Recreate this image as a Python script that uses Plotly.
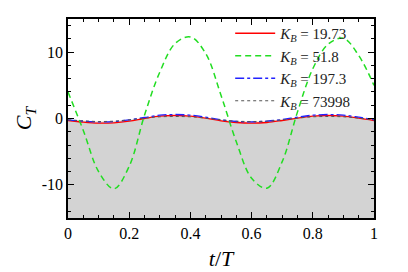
import plotly.graph_objects as go

t = [0.0, 0.05, 0.10, 0.15, 0.20, 0.25, 0.30, 0.35, 0.40, 0.45, 0.50,
     0.55, 0.60, 0.65, 0.70, 0.75, 0.80, 0.85, 0.90, 0.95, 1.0]

ct_1973 = [-0.3, -0.55, -0.7, -0.65, -0.4, 0.0, 0.35, 0.45, 0.35, 0.05, -0.35,
           -0.6, -0.7, -0.6, -0.3, 0.05, 0.35, 0.45, 0.35, 0.05, -0.3]
ct_518 = [4.0, -1.8, -8.0, -10.6, -7.2, 0.5, 7.0, 11.3, 12.3, 9.8, 3.5,
          -3.5, -9.0, -10.5, -6.5, 1.0, 7.5, 11.2, 12.1, 9.5, 5.0]
ct_1973b = [-0.2, -0.4, -0.5, -0.45, -0.2, 0.15, 0.5, 0.6, 0.5, 0.2, -0.2,
            -0.45, -0.5, -0.4, -0.15, 0.2, 0.5, 0.6, 0.5, 0.2, -0.2]
ct_73998 = [-0.2, -0.35, -0.45, -0.4, -0.2, 0.05, 0.25, 0.3, 0.25, 0.05, -0.2,
            -0.4, -0.45, -0.4, -0.2, 0.05, 0.25, 0.3, 0.25, 0.05, -0.2]

names = ["<i>K<sub>B</sub></i> = 19.73", "<i>K<sub>B</sub></i> = 51.8",
         "<i>K<sub>B</sub></i> = 197.3", "<i>K<sub>B</sub></i> = 73998"]

x_ticks = [0, 0.2, 0.4, 0.6, 0.8, 1]
x_ticktext = ["0", "0.2", "0.4", "0.6", "0.8", "1"]
y_ticks = [-10, 0, 10]
y_ticktext = ["-10", "0", "10"]

ymin, ymax = -15, 15
serif = "Liberation Serif, Times New Roman, serif"

fig = go.Figure()
# gray filled region under the curves
fig.add_trace(go.Scatter(x=t, y=[ymin] * len(t), mode="lines", line=dict(width=0),
                         showlegend=False, hoverinfo="skip"))
fig.add_trace(go.Scatter(x=t, y=ct_73998, mode="lines", line=dict(width=0, shape="spline"),
                         fill="tonexty", fillcolor="#d3d3d3", showlegend=False, hoverinfo="skip"))

fig.add_trace(go.Scatter(x=t, y=ct_1973, mode="lines", name=names[0],
                         line=dict(color="#ff0000", width=1.3, shape="spline")))
fig.add_trace(go.Scatter(x=t, y=ct_518, mode="lines", name=names[1],
                         line=dict(color="#22dd22", width=1.5, dash="6px,4px", shape="spline")))
fig.add_trace(go.Scatter(x=t, y=ct_1973b, mode="lines", name=names[2],
                         line=dict(color="#2222ff", width=1.3, dash="dashdot", shape="spline")))
fig.add_trace(go.Scatter(x=t, y=ct_73998, mode="lines", name=names[3],
                         line=dict(color="#555555", width=1, dash="dot", shape="spline")))

axis_common = dict(showline=True, linecolor="black", linewidth=1.5, mirror="ticks",
                   ticks="inside", ticklen=6, tickcolor="black", showgrid=False,
                   zeroline=False, automargin=False,
                   tickfont=dict(family=serif, size=16, color="black"))

fig.update_xaxes(range=[0, 1], tickvals=x_ticks, ticktext=x_ticktext,
                 minor=dict(ticks="inside", ticklen=3, dtick=0.05, tickcolor="black"),
                 title=dict(text="<i>t</i>/<i>T</i>", font=dict(family=serif, size=22, color="black"),
                            standoff=10),
                 **axis_common)
fig.update_yaxes(range=[ymin, ymax], tickvals=y_ticks, ticktext=y_ticktext,
                 minor=dict(ticks="inside", ticklen=3, dtick=2, tickcolor="black"),
                 title=dict(text="<i>C<sub>T</sub></i>", font=dict(family=serif, size=22, color="black"),
                            standoff=4),
                 **axis_common)

fig.update_layout(width=400, height=264, margin=dict(l=60, r=34, t=10, b=54),
                  paper_bgcolor="white", plot_bgcolor="white",
                  legend=dict(x=0.53, y=1.005, xanchor="left", yanchor="top",
                              traceorder="normal", itemwidth=40,
                              bgcolor="rgba(0,0,0,0)", borderwidth=0,
                              font=dict(family=serif, size=15, color="#222222"),
                              tracegroupgap=0))

fig.write_html("out.html")
